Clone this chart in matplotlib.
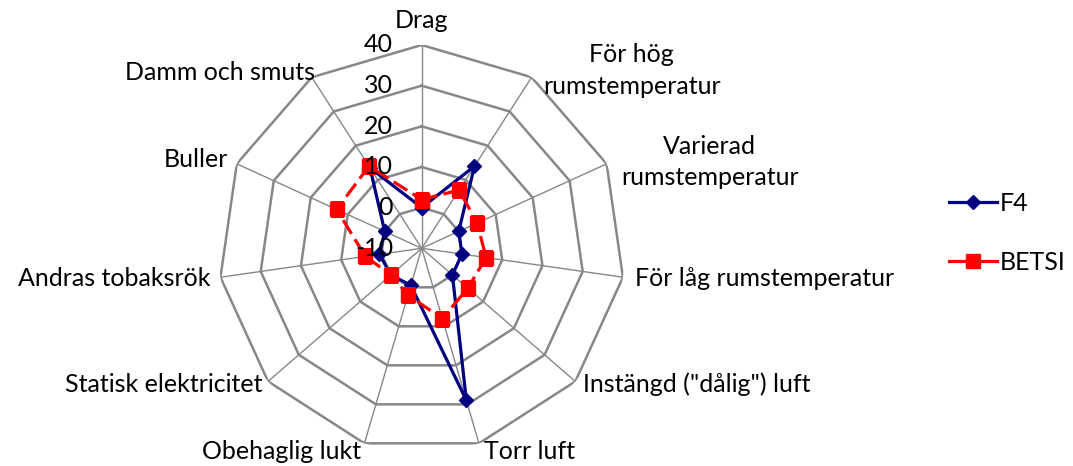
import numpy as np
import matplotlib
matplotlib.use("Agg")
import matplotlib.pyplot as plt

plt.rcParams['font.family'] = ['Lato', 'DejaVu Sans']

categories = [
    "Drag",
    "För hög\nrumstemperatur",
    "Varierad\nrumstemperatur",
    "För låg rumstemperatur",
    "Instängd (\"dålig\") luft",
    "Torr luft",
    "Obehaglig lukt",
    "Statisk elektricitet",
    "Andras tobaksrök",
    "Buller",
    "Damm och smuts",
]
f4_values = [0, 14, 0, 0, 0, 29, -0.5, 0, 0.5, 0, 13.5]
betsi_values = [2, 7, 5, 6, 5, 8, 2, 0, 4, 13, 14]
radial_ticks = [-10, 0, 10, 20, 30, 40]

# label placement: (dx, dy) in pixels from outer vertex, ha, va
label_style = [
    ((0, 25), "center", "center"),
    ((100, 7), "center", "center"),
    ((103, 2), "center", "center"),
    ((12, -1), "left", "center"),
    ((8, -3), "left", "center"),
    ((5, -8), "left", "center"),
    ((-3, -8), "right", "center"),
    ((-6, -3), "right", "center"),
    ((-10, -1), "right", "center"),
    ((-9, 4), "right", "center"),
    ((3, 5), "right", "center"),
]

W, H, DPI = 1073, 466, 100
fig = plt.figure(figsize=(W / DPI, H / DPI), dpi=DPI)
cx, cy, R = 421.7, 466 - 248.3, 203.3
ax = fig.add_axes([(cx - R) / W, (cy - R) / H, 2 * R / W, 2 * R / H], projection="polar")
ax.set_theta_zero_location("N")
ax.set_theta_direction(-1)
ax.set_ylim(radial_ticks[0], radial_ticks[-1])
ax.grid(False)
ax.spines["polar"].set_visible(False)
ax.set_xticks([])
ax.set_yticks([])
ax.patch.set_visible(False)

n = len(categories)
angles = np.arange(n) * 2 * np.pi / n
closed = np.append(angles, angles[0])

grid_color = "#878787"
for lvl in radial_ticks[1:]:
    ax.plot(closed, [lvl] * (n + 1), color=grid_color, lw=1.8, zorder=1,
            solid_joinstyle="miter")
for a in angles:
    ax.plot([a, a], [radial_ticks[0], radial_ticks[-1]], color=grid_color, lw=1.0, zorder=1)

for lvl in radial_ticks:
    ax.annotate(str(lvl), xy=(0, lvl), xytext=(-20.5, 0), textcoords="offset points",
                ha="right", va="center", fontsize=18, color="black", zorder=5)

f4_closed = f4_values + f4_values[:1]
betsi_closed = betsi_values + betsi_values[:1]
ax.plot(closed, f4_closed, color="#000080", lw=2.3, marker="D", markersize=7.5,
        markerfacecolor="#000080", markeredgecolor="#000080", label="F4", zorder=3)
ax.plot(closed, betsi_closed, color="#FF0000", lw=2.3, dashes=(5, 2),
        marker="s", markersize=9.5, markerfacecolor="#FF0000", markeredgecolor="#FF0000",
        label="BETSI", zorder=4)

pt = 72.0 / DPI
for a, name, ((dx, dy), ha, va) in zip(angles, categories, label_style):
    ax.annotate(name, xy=(a, radial_ticks[-1]), xytext=(dx * pt, dy * pt),
                textcoords="offset points", ha=ha, va=va, fontsize=18,
                linespacing=1.45, multialignment="center", annotation_clip=False)

leg = fig.legend(loc="center left", bbox_to_anchor=(926 / W, 1 - 233 / H), frameon=False,
                 fontsize=18, handlelength=1.95, handletextpad=0.1, labelspacing=1.45)
for line in leg.get_lines():
    line.set_linestyle("-")

fig.savefig("out.png", dpi=DPI)
